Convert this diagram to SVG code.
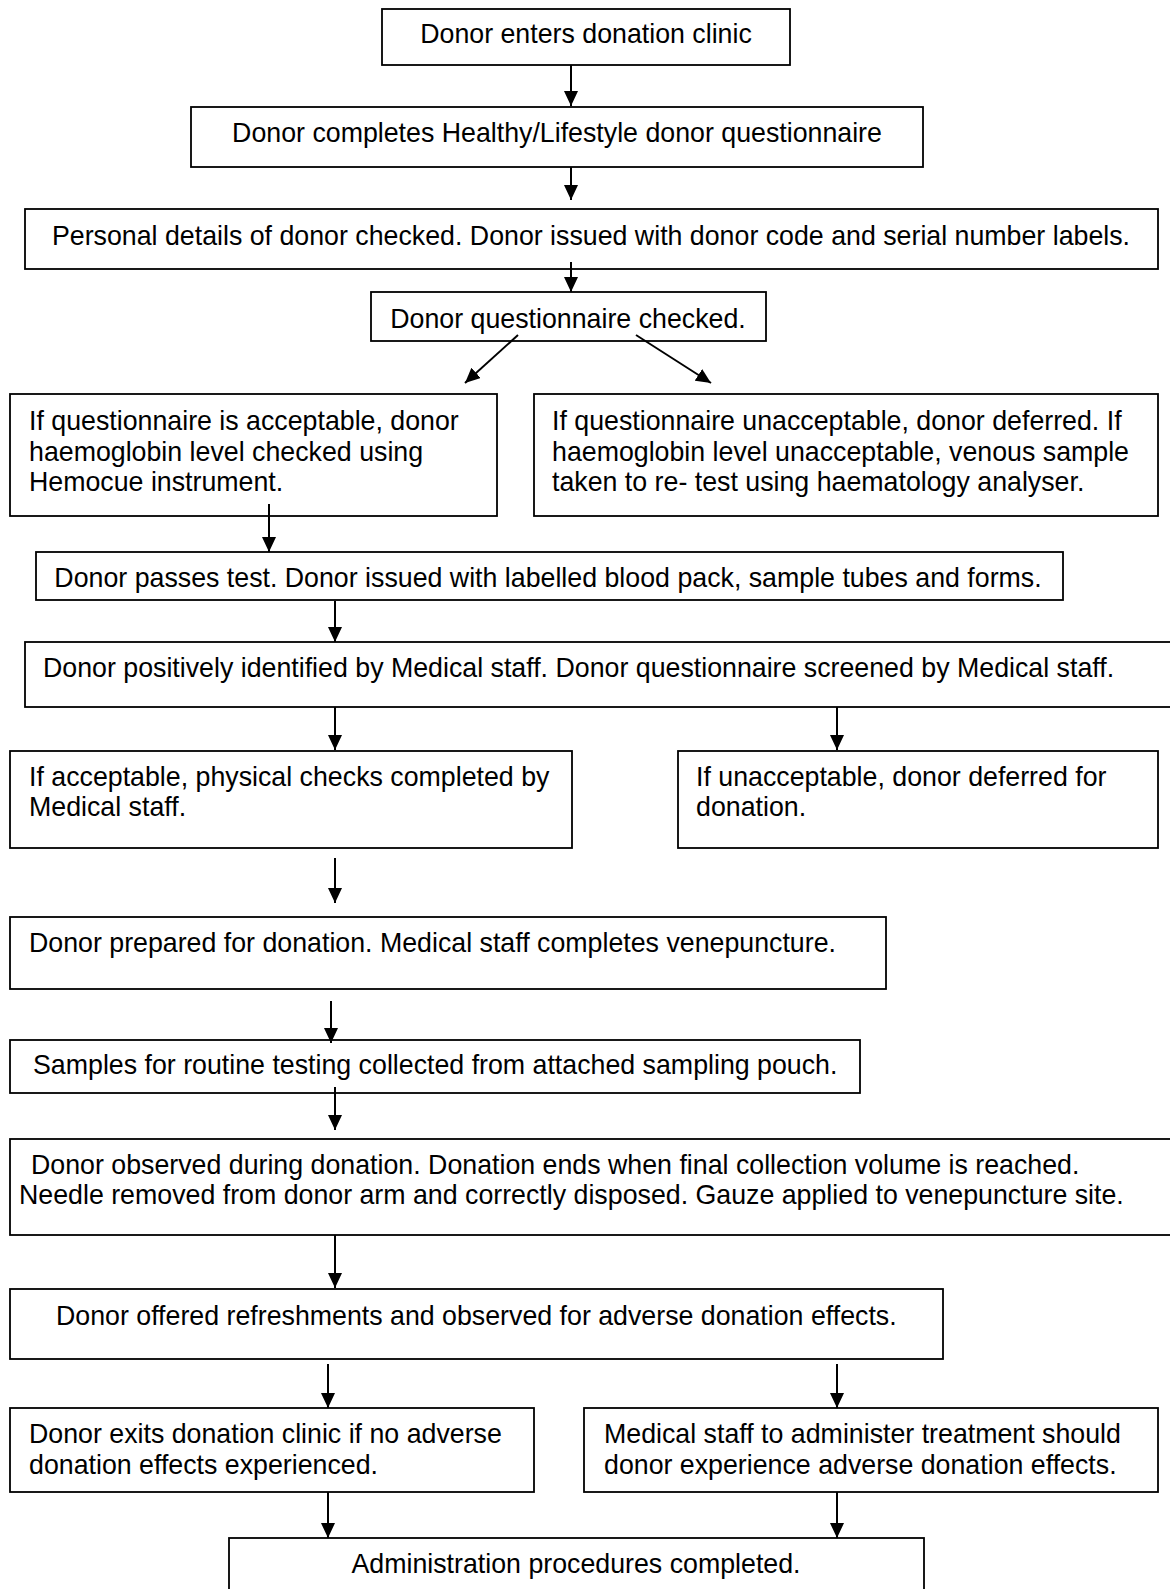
<svg xmlns="http://www.w3.org/2000/svg" width="1170" height="1589" viewBox="0 0 1170 1589">
<style>
.box{fill:#fff;stroke:#000;stroke-width:1.8}
.t{font-family:"Liberation Sans",Arial,sans-serif;font-size:26.75px;fill:#000}
.c{text-anchor:middle}
.con line{stroke:#000;stroke-width:2;marker-end:url(#ah)}
</style>
<defs>
<marker id="ah" markerUnits="userSpaceOnUse" markerWidth="15" markerHeight="14" refX="15" refY="7" orient="auto" viewBox="0 0 15 14">
<path d="M0,0 L15,7 L0,14 z" fill="#000"/>
</marker>
<clipPath id="clip7"><rect x="36" y="552" width="1027" height="45"/></clipPath>
</defs>
<rect width="1170" height="1589" fill="#fff"/>
<g id="n1"><rect class="box" x="382" y="9" width="408" height="56"/><text class="t c" x="586" y="43">Donor enters donation clinic</text></g>
<g id="n2"><rect class="box" x="191" y="107" width="732" height="60"/><text class="t c" x="557" y="142">Donor completes Healthy/Lifestyle donor questionnaire</text></g>
<g id="n3"><rect class="box" x="25" y="209" width="1133" height="60"/><text class="t c" x="591" y="245">Personal details of donor checked. Donor issued with donor code and serial number labels.</text></g>
<g id="n4"><rect class="box" x="371" y="292" width="395" height="49"/><text class="t c" x="568" y="328">Donor questionnaire checked.</text></g>
<g id="n5"><rect class="box" x="10" y="394" width="487" height="122"/><text class="t" x="29" y="430">If questionnaire is acceptable, donor</text><text class="t" x="29" y="461">haemoglobin level checked using</text><text class="t" x="29" y="491">Hemocue instrument.</text></g>
<g id="n6"><rect class="box" x="534" y="394" width="624" height="122"/><text class="t" x="552" y="430">If questionnaire unacceptable, donor deferred. If</text><text class="t" x="552" y="461">haemoglobin level unacceptable, venous sample</text><text class="t" x="552" y="491">taken to re- test using haematology analyser.</text></g>
<g id="n7"><rect class="box" x="36" y="552" width="1027" height="48"/><text class="t c" x="548" y="587" clip-path="url(#clip7)">Donor passes test. Donor issued with labelled blood pack, sample tubes and forms.</text></g>
<g id="n8"><rect class="box" x="25" y="642" width="1160" height="65"/><text class="t" x="43" y="677">Donor positively identified by Medical staff. Donor questionnaire screened by Medical staff.</text></g>
<g id="n9"><rect class="box" x="10" y="751" width="562" height="97"/><text class="t" x="29" y="786">If acceptable, physical checks completed by</text><text class="t" x="29" y="816">Medical staff.</text></g>
<g id="n10"><rect class="box" x="678" y="751" width="480" height="97"/><text class="t" x="696" y="786">If unacceptable, donor deferred for</text><text class="t" x="696" y="816">donation.</text></g>
<g id="n11"><rect class="box" x="10" y="917" width="876" height="72"/><text class="t" x="29" y="952">Donor prepared for donation. Medical staff completes venepuncture.</text></g>
<g id="n12"><rect class="box" x="10" y="1040" width="850" height="53"/><text class="t" x="33" y="1074">Samples for routine testing collected from attached sampling pouch.</text></g>
<g id="n13"><rect class="box" x="10" y="1139" width="1175" height="96"/><text class="t" x="31" y="1174">Donor observed during donation. Donation ends when final collection volume is reached.</text><text class="t" x="19" y="1204">Needle removed from donor arm and correctly disposed. Gauze applied to venepuncture site.</text></g>
<g id="n14"><rect class="box" x="10" y="1289" width="933" height="70"/><text class="t" x="56" y="1325">Donor offered refreshments and observed for adverse donation effects.</text></g>
<g id="n15"><rect class="box" x="10" y="1408" width="524" height="84"/><text class="t" x="29" y="1443">Donor exits donation clinic if no adverse</text><text class="t" x="29" y="1474">donation effects experienced.</text></g>
<g id="n16"><rect class="box" x="584" y="1408" width="574" height="84"/><text class="t" x="604" y="1443">Medical staff to administer treatment should</text><text class="t" x="604" y="1474">donor experience adverse donation effects.</text></g>
<g id="n17"><rect class="box" x="229" y="1538" width="695" height="70"/><text class="t c" x="576" y="1573">Administration procedures completed.</text></g>
<g id="connectors" class="con">
<line x1="571" y1="65" x2="571" y2="106"/>
<line x1="571" y1="167" x2="571" y2="200"/>
<line x1="571" y1="262" x2="571" y2="292"/>
<line x1="518" y1="335" x2="465" y2="383"/>
<line x1="636" y1="335" x2="711" y2="383"/>
<line x1="269" y1="504" x2="269" y2="552"/>
<line x1="335" y1="601" x2="335" y2="642"/>
<line x1="335" y1="707" x2="335" y2="750"/>
<line x1="837" y1="707" x2="837" y2="750"/>
<line x1="335" y1="858" x2="335" y2="903"/>
<line x1="331" y1="1001" x2="331" y2="1043"/>
<line x1="335" y1="1087" x2="335" y2="1130"/>
<line x1="335" y1="1235" x2="335" y2="1288"/>
<line x1="328" y1="1364" x2="328" y2="1408"/>
<line x1="837" y1="1364" x2="837" y2="1408"/>
<line x1="328" y1="1492" x2="328" y2="1538"/>
<line x1="837" y1="1492" x2="837" y2="1538"/>
</g>
</svg>
